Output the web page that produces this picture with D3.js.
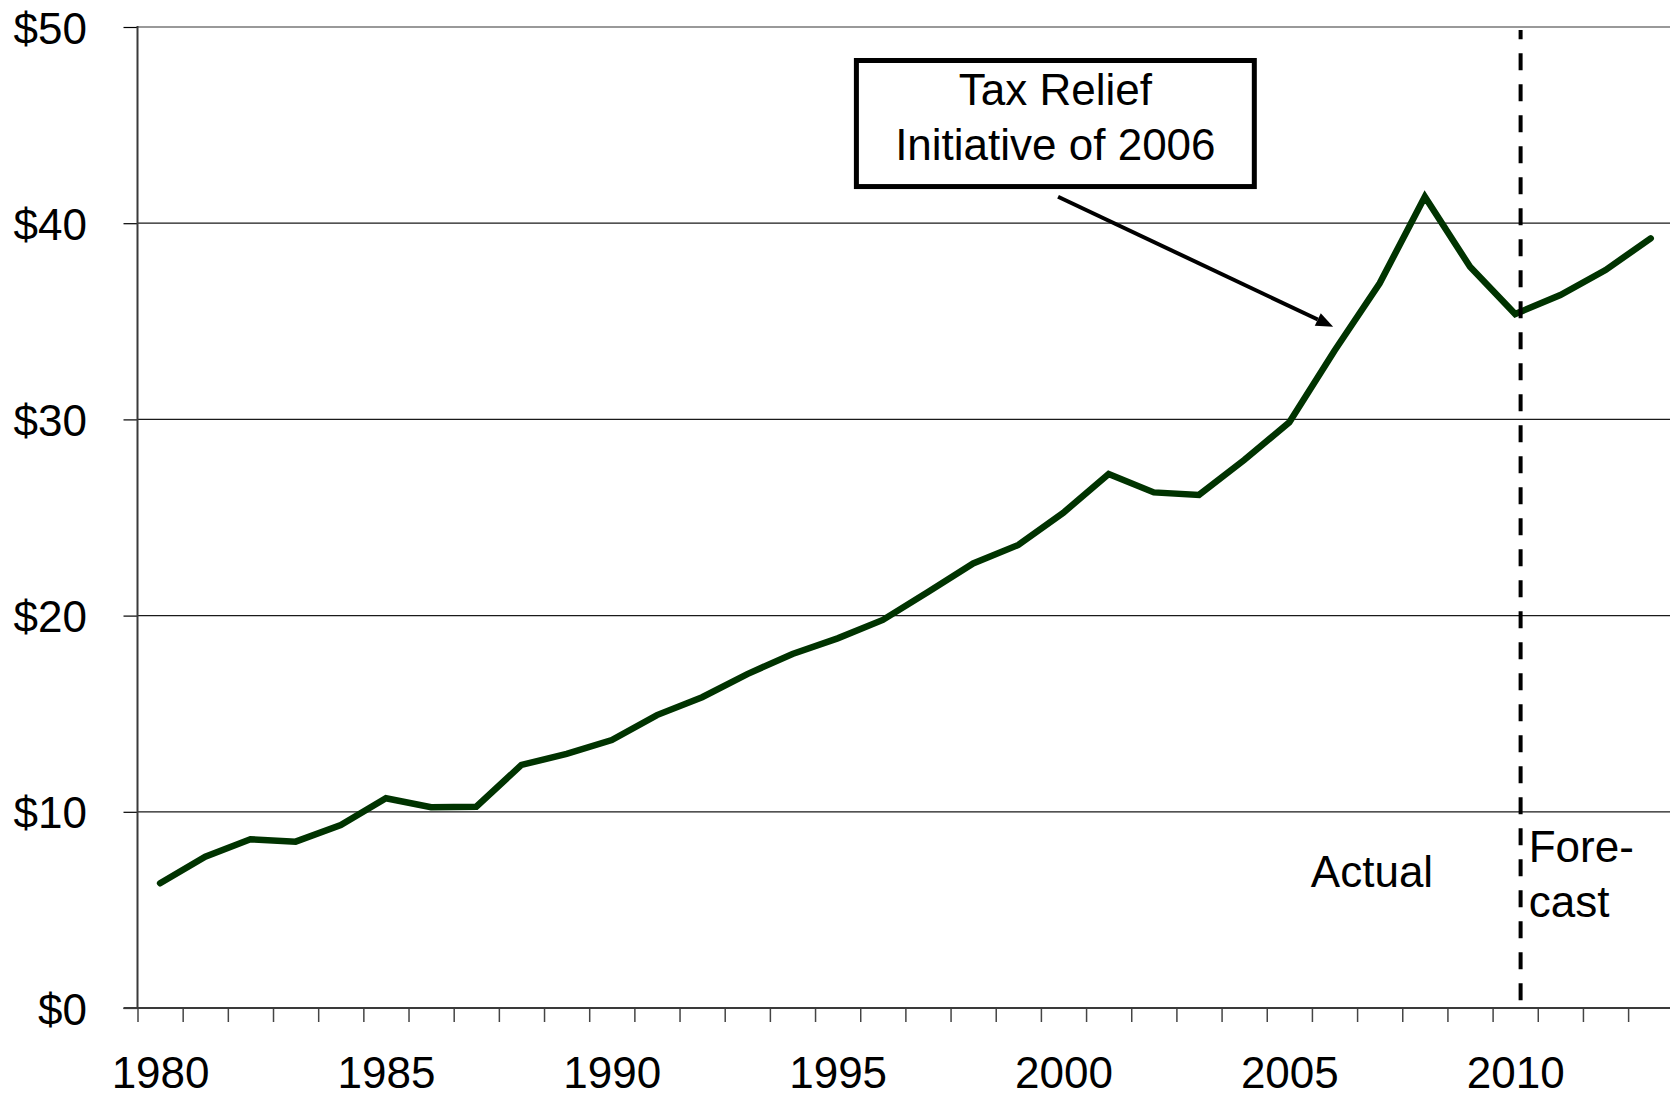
<!DOCTYPE html>
<html>
<head>
<meta charset="utf-8">
<script src="https://cdn.jsdelivr.net/npm/d3@7"></script>
<style>
  html, body { margin: 0; padding: 0; background: #fff; overflow: hidden; }
  svg { display: block; }
  text { font-family: "Liberation Sans", Arial, sans-serif; fill: #000; }
</style>
</head>
<body>
<svg id="chart" width="1670" height="1094"></svg>
<script>
// ---- data ----
const years = [1980,1981,1982,1983,1984,1985,1986,1987,1988,1989,
               1990,1991,1992,1993,1994,1995,1996,1997,1998,1999,
               2000,2001,2002,2003,2004,2005,2006,2007,2008,2009,
               2010,2011,2012,2013];
const values = [6.36,7.71,8.60,8.48,9.33,10.69,10.23,10.26,12.39,12.95,
                13.66,14.93,15.84,17.02,18.04,18.84,19.78,21.2,22.66,23.60,
                25.25,27.22,26.28,26.15,27.93,29.85,33.5,36.94,41.35,37.78,
                35.37,36.34,37.61,39.23];
const yTicks = [0,10,20,30,40,50];
const xTickLabels = [1980,1985,1990,1995,2000,2005,2010];
const annotationLines = ["Tax Relief", "Initiative of 2006"];
const actualLabel = "Actual";
const forecastLines = ["Fore-", "cast"];
const forecastYear = 2010;

(function () {
// ---- layout ----
const pLeft = 137.5, pTop = 27, pBottom = 1008, catW = 45.17;
const pRight = pLeft + years.length * catW;
const fontSize = 44;
const FONT = '"Liberation Sans", Arial, sans-serif';

const svg = d3.select("#chart");
const x = d3.scaleLinear().domain([years[0] - 0.5, years[years.length-1] + 0.5]).range([pLeft, pRight]);
const y = d3.scaleLinear().domain([0, 50]).range([pBottom, pTop]);

// gridlines
svg.append("g").selectAll("line").data(yTicks.filter(d => d > 0)).join("line")
  .attr("x1", pLeft).attr("x2", 1670)
  .attr("y1", d => y(d)).attr("y2", d => y(d))
  .attr("stroke", d => d === 50 ? "#999" : "#1a1a1a")
  .attr("stroke-width", d => d === 50 ? 2.2 : 1.2);

// y axis
const yAxis = d3.axisLeft(y).tickValues(yTicks).tickSize(14).tickPadding(36.5)
  .tickFormat(d => "$" + d);
const gy = svg.append("g").attr("transform", `translate(${pLeft},0)`).call(yAxis);
gy.select(".domain").remove();
gy.selectAll(".tick line").attr("stroke", "#000").attr("stroke-width", 1.2);
gy.selectAll(".tick text").attr("font-size", fontSize).attr("dy", null).attr("y", 16)
  .attr("font-family", FONT).attr("fill", "#000");
svg.append("line").attr("x1", pLeft).attr("x2", pLeft).attr("y1", pTop - 1).attr("y2", pBottom)
  .attr("stroke", "#3a3a3a").attr("stroke-width", 2);

// x axis: ticks between categories
const boundaries = years.map(d => d - 0.5).concat([years[years.length-1] + 0.5]);
const xAxisTicks = d3.axisBottom(x).tickValues(boundaries).tickSize(14).tickFormat("");
const gx = svg.append("g").attr("transform", `translate(0,${pBottom})`).call(xAxisTicks);
gx.select(".domain").remove();
gx.selectAll(".tick line").attr("stroke", "#444").attr("stroke-width", 1.5);
svg.append("line").attr("x1", pLeft - 14).attr("x2", 1670).attr("y1", pBottom).attr("y2", pBottom)
  .attr("stroke", "#3a3a3a").attr("stroke-width", 2);

const xLabelAxis = d3.axisBottom(x).tickValues(xTickLabels).tickSize(0).tickPadding(0).tickFormat(d3.format("d"));
const gxl = svg.append("g").attr("transform", `translate(0,${pBottom})`).call(xLabelAxis);
gxl.select(".domain").remove();
gxl.selectAll(".tick text").attr("font-size", fontSize).attr("dy", null).attr("y", 80)
  .attr("font-family", FONT).attr("fill", "#000");

// data line
const line = d3.line().x((d, i) => x(years[i])).y(d => y(d));
svg.append("path").datum(values)
  .attr("d", line)
  .attr("fill", "none")
  .attr("stroke", "#003300")
  .attr("stroke-width", 6.5)
  .attr("stroke-linejoin", "miter")
  .attr("stroke-linecap", "round");

// forecast divider (dashed)
const divX = x(forecastYear + 0.12);
svg.append("line")
  .attr("x1", divX).attr("x2", divX)
  .attr("y1", y(0.4)).attr("y2", y(49.85))
  .attr("stroke", "#000").attr("stroke-width", 4)
  .attr("stroke-dasharray", "17,14");

// Actual / Forecast labels
svg.append("text").attr("x", x(2006.83)).attr("y", y(6.15))
  .attr("text-anchor", "middle").attr("font-size", fontSize).text(actualLabel);
svg.append("text").selectAll("tspan").data(forecastLines).join("tspan")
  .attr("x", x(2010.30)).attr("y", (d, i) => y(7.46) + i * 55)
  .attr("font-size", fontSize).text(d => d);

// annotation box
const bx0 = x(1995.36), bx1 = x(2004.28), by0 = y(48.42), by1 = y(41.74);
svg.append("rect")
  .attr("x", bx0 + 2.5).attr("y", by0 + 2.5)
  .attr("width", bx1 - bx0 - 5).attr("height", by1 - by0 - 5)
  .attr("fill", "#fff").attr("stroke", "#000").attr("stroke-width", 5);
svg.append("text").selectAll("tspan").data(annotationLines).join("tspan")
  .attr("x", (bx0 + bx1) / 2).attr("y", (d, i) => by0 + 47.5 + i * 55)
  .attr("text-anchor", "middle").attr("font-size", fontSize).text(d => d);

// arrow
const ax0 = x(1999.88), ay0 = y(41.35), ax1 = x(2005.97), ay1 = y(34.72);
const ang = Math.atan2(ay1 - ay0, ax1 - ax0);
const headLen = 17, headW = 7;
const bxh = ax1 - headLen * Math.cos(ang), byh = ay1 - headLen * Math.sin(ang);
svg.append("line").attr("x1", ax0).attr("y1", ay0).attr("x2", bxh).attr("y2", byh)
  .attr("stroke", "#000").attr("stroke-width", 4);
const px = -Math.sin(ang), py = Math.cos(ang);
svg.append("path")
  .attr("d", d3.line()([[ax1, ay1], [bxh + px * headW, byh + py * headW], [bxh - px * headW, byh - py * headW]]) + "Z")
  .attr("fill", "#000");
})();
</script>
</body>
</html>
